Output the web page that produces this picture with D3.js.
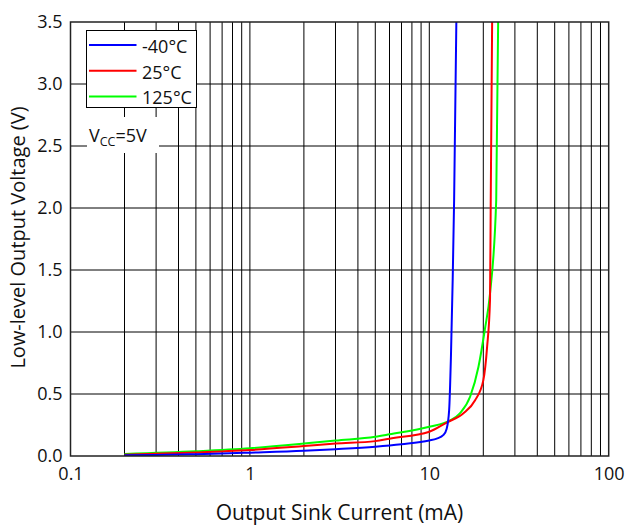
<!DOCTYPE html>
<html>
<head>
<meta charset="utf-8">
<script src="https://cdn.jsdelivr.net/npm/d3@7"></script>
<style>
  body { margin: 0; background: #fff; }
  text { font-family: "Open Sans", "Noto Sans", sans-serif; fill: #111; }
</style>
</head>
<body>
<svg id="chart" width="629" height="525"></svg>
<script>
// values: current (mA) and voltage (V) per temperature
var blueI = [0.2, 0.3, 0.5, 0.7, 1, 2, 3, 5, 7, 10, 11, 12, 12.5, 12.9, 13.2, 13.5, 13.75, 14.15];
var blueV = [0.006, 0.009, 0.015, 0.02, 0.027, 0.042, 0.055, 0.075, 0.095, 0.125, 0.14, 0.17, 0.22, 0.37, 0.8, 1.42, 2.06, 3.5];
var redI = [0.2, 0.5, 1, 2, 3, 5, 6, 10, 12.5, 15.5, 18, 20, 21, 21.8, 22, 22.4];
var redV = [0.01, 0.028, 0.048, 0.08, 0.1, 0.12, 0.14, 0.196, 0.27, 0.344, 0.45, 0.61, 0.88, 1.26, 2.06, 3.5];
var greenI = [0.2, 0.5, 1, 2, 3, 5, 6, 10, 13, 14.8, 16.9, 18.8, 20.4, 21.8, 23.6, 24.2];
var greenV = [0.016, 0.038, 0.062, 0.1, 0.125, 0.155, 0.175, 0.236, 0.285, 0.344, 0.48, 0.72, 1.02, 1.31, 2.06, 3.5];

var seriesNames = ["-40°C", "25°C", "125°C"];
var seriesColors = ["#0000ff", "#ff0000", "#00ff00"];

var xTicks = [0.1, 1, 10, 100];
var yTicks = [0, 0.5, 1, 1.5, 2, 2.5, 3, 3.5];

const mLeft = 70.5, mRight = 608.7, mTop = 22, mBottom = 456;

const svg = d3.select("#chart");

var x = d3.scaleLog().domain([0.1, 100]).range([mLeft, mRight]);
var y = d3.scaleLinear().domain([0, 3.5]).range([mBottom, mTop]);

// minor grid (every 2..9 in each decade)
var gridX = [];
[0.1, 1, 10].forEach(function (d) {
  for (var k = 2; k <= 9; k++) gridX.push(d * k);
});

svg.append("g")
  .selectAll("line")
  .data(gridX.concat([1, 10]))
  .enter()
  .append("line")
  .attr("x1", d => x(d))
  .attr("x2", d => x(d))
  .attr("y1", mTop)
  .attr("y2", mBottom)
  .attr("stroke", "#000")
  .attr("stroke-width", 1);

svg.append("g")
  .selectAll("line")
  .data(yTicks.slice(1, -1))
  .enter()
  .append("line")
  .attr("x1", mLeft)
  .attr("x2", mRight)
  .attr("y1", d => y(d))
  .attr("y2", d => y(d))
  .attr("stroke", "#000")
  .attr("stroke-width", 1);

// curves
var series = [
  blueI.map((d, i) => [d, blueV[i]]),
  redI.map((d, i) => [d, redV[i]]),
  greenI.map((d, i) => [d, greenV[i]])
];

svg.append("clipPath")
  .attr("id", "clip")
  .append("rect")
  .attr("x", mLeft)
  .attr("y", mTop)
  .attr("width", mRight - mLeft)
  .attr("height", mBottom - mTop);

var line = d3.line()
  .x(d => x(d[0]))
  .y(d => y(d[1]))
  .curve(d3.curveMonotoneX);

svg.append("g")
  .attr("clip-path", "url(#clip)")
  .selectAll("path")
  .data([series[2], series[1], series[0]])
  .enter()
  .append("path")
  .attr("d", line)
  .attr("fill", "none")
  .attr("stroke", (d, i) => seriesColors[2 - i])
  .attr("stroke-width", 2);

// frame
svg.append("rect")
  .attr("x", mLeft)
  .attr("y", mTop)
  .attr("width", mRight - mLeft)
  .attr("height", mBottom - mTop)
  .attr("fill", "none")
  .attr("stroke", "#222")
  .attr("stroke-width", 1.5);

// axes
var yAxis = d3.axisLeft(y).tickValues(yTicks).tickFormat(d3.format(".1f")).tickSize(0).tickPadding(8);
var gy = svg.append("g").attr("transform", `translate(${mLeft},0)`).call(yAxis);
gy.select(".domain").remove();
gy.selectAll("text").style("font-size", "18px").style("font-family", null);

var xAxis = d3.axisBottom(x).tickValues(xTicks).tickFormat(d => d).tickSize(0).tickPadding(11);
var gx = svg.append("g").attr("transform", `translate(0,${mBottom})`).call(xAxis);
gx.select(".domain").remove();
gx.selectAll("text").style("font-size", "18px").style("font-family", null);

svg.append("text")
  .attr("x", 339.5)
  .attr("y", 520)
  .attr("text-anchor", "middle")
  .style("font-size", "21px")
  .text("Output Sink Current (mA)");

svg.append("text")
  .attr("transform", "translate(25,237.5) rotate(-90)")
  .attr("text-anchor", "middle")
  .style("font-size", "20px")
  .text("Low-level Output Voltage (V)");

// legend
var lg = svg.append("g");
lg.append("rect")
  .attr("x", 86.5)
  .attr("y", 30.5)
  .attr("width", 110)
  .attr("height", 77)
  .attr("fill", "#fff")
  .attr("stroke", "#000");
lg.selectAll("line")
  .data(seriesNames)
  .enter()
  .append("line")
  .attr("x1", 89)
  .attr("x2", 136.5)
  .attr("y1", (d, i) => 45 + i * 25.7)
  .attr("y2", (d, i) => 45 + i * 25.7)
  .attr("stroke", (d, i) => seriesColors[i])
  .attr("stroke-width", 2);
lg.selectAll("text")
  .data(seriesNames)
  .enter()
  .append("text")
  .attr("x", 142)
  .attr("y", (d, i) => 53 + i * 25.7)
  .style("font-size", "18px")
  .text(d => d);

// Vcc note
svg.append("rect")
  .attr("x", 87)
  .attr("y", 117)
  .attr("width", 72)
  .attr("height", 36)
  .attr("fill", "#fff");
var vt = svg.append("text")
  .attr("x", 89)
  .attr("y", 142)
  .style("font-size", "18px");
vt.append("tspan").text("V");
vt.append("tspan").attr("dy", 4).style("font-size", "12.5px").text("CC");
vt.append("tspan").attr("dy", -4).text("=5V");
</script>
</body>
</html>
